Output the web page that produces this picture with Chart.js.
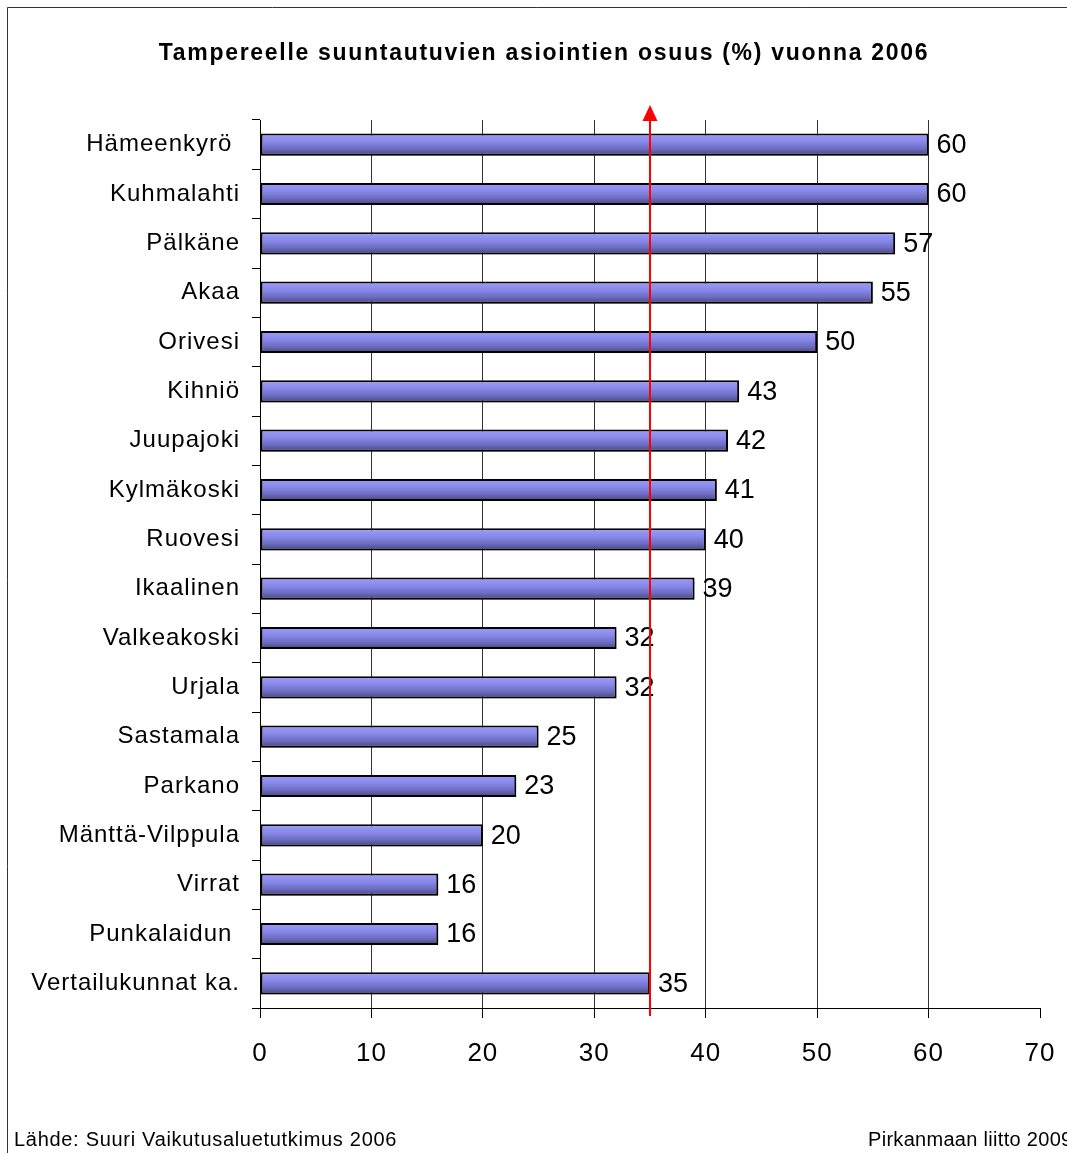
<!DOCTYPE html>
<html>
<head>
<meta charset="utf-8">
<script src="https://cdn.jsdelivr.net/npm/chart.js@4/dist/chart.umd.min.js"></script>
<style>
  body { margin: 0; background: #fff; }
  canvas { display: block; }
</style>
</head>
<body>
<canvas id="chart" width="1067" height="1153"></canvas>
<script>
const municipalities = [
  "Hämeenkyrö ", "Kuhmalahti", "Pälkäne", "Akaa", "Orivesi", "Kihniö",
  "Juupajoki", "Kylmäkoski", "Ruovesi", "Ikaalinen", "Valkeakoski", "Urjala",
  "Sastamala", "Parkano", "Mänttä-Vilppula", "Virrat", "Punkalaidun ", "Vertailukunnat ka."
];
const shares = [60, 60, 57, 55, 50, 43, 42, 41, 40, 39, 32, 32, 25, 23, 20, 16, 16, 35];
const xTicks = [0, 10, 20, 30, 40, 50, 60, 70];
const referenceValue = 35;

const titleText = "Tampereelle suuntautuvien asiointien osuus (%) vuonna 2006";
const sourceText = "Lähde: Suuri Vaikutusaluetutkimus 2006";
const creditText = "Pirkanmaan liitto 2009";

const FONT = "'Liberation Sans', Arial, sans-serif";

// vertical gradient per bar
function barFill(ctx) {
  const chart = ctx.chart;
  const y = chart.scales && chart.scales.y;
  if (!y || ctx.dataIndex === undefined) return "#8080e0";
  const c = y.getPixelForValue(ctx.dataIndex);
  if (!isFinite(c)) return "#8080e0";
  const g = chart.ctx.createLinearGradient(0, c - 11, 0, c + 11);
  g.addColorStop(0, "#9c9cf8");
  g.addColorStop(0.35, "#8a8aec");
  g.addColorStop(0.7, "#6c6cc0");
  g.addColorStop(1, "#44447c");
  return g;
}

const decor = {
  id: "decor",
  beforeDraw(chart) {
    const ctx = chart.ctx;
    ctx.save();
    ctx.fillStyle = "#fff";
    ctx.fillRect(0, 0, chart.width, chart.height);
    // frame
    ctx.strokeStyle = "#333";
    ctx.lineWidth = 1;
    ctx.beginPath();
    ctx.moveTo(7.5, chart.height);
    ctx.lineTo(7.5, 7.5);
    ctx.lineTo(chart.width, 7.5);
    ctx.stroke();
    // title
    ctx.fillStyle = "#000";
    ctx.font = "bold 23px " + FONT;
    ctx.letterSpacing = "1.7px";
    ctx.textAlign = "center";
    ctx.textBaseline = "alphabetic";
    ctx.fillText(titleText, 544, 60);
    // footer
    ctx.letterSpacing = "0.7px";
    ctx.font = "20px " + FONT;
    ctx.textAlign = "left";
    ctx.fillText(sourceText, 14, 1146);
    ctx.letterSpacing = "0.3px";
    ctx.fillText(creditText, 868, 1146);
    ctx.restore();
    // the axis labels in the original are set a little wide
    ctx.letterSpacing = "1px";
  },
  beforeDatasetsDraw(chart) {
    const ctx = chart.ctx;
    ctx.letterSpacing = "0px";
    ctx.save();
    ctx.shadowColor = "rgba(0,0,0,0.18)";
    ctx.shadowOffsetX = 1;
    ctx.shadowOffsetY = 3;
    ctx.shadowBlur = 0;
  },
  afterDatasetsDraw(chart) {
    const ctx = chart.ctx;
    ctx.restore();
    ctx.save();
    // value labels
    ctx.font = "27px " + FONT;
    ctx.fillStyle = "#000";
    ctx.textAlign = "left";
    ctx.textBaseline = "middle";
    chart.getDatasetMeta(0).data.forEach((bar, i) => {
      ctx.fillText(String(shares[i]), bar.x + 8, bar.y + 1);
    });
    // reference arrow
    const x = chart.scales.x.getPixelForValue(referenceValue);
    const top = chart.chartArea.top;
    const bottom = chart.chartArea.bottom;
    ctx.strokeStyle = "#ff0000";
    ctx.fillStyle = "#ff0000";
    ctx.lineWidth = 2;
    ctx.beginPath();
    ctx.moveTo(x, bottom + 8);
    ctx.lineTo(x, top - 2);
    ctx.stroke();
    ctx.beginPath();
    ctx.moveTo(x, top - 15);
    ctx.lineTo(x - 7.5, top + 1);
    ctx.lineTo(x + 7.5, top + 1);
    ctx.closePath();
    ctx.fill();
    ctx.restore();
  }
};

new Chart(document.getElementById("chart"), {
  type: "bar",
  data: {
    labels: municipalities,
    datasets: [{
      data: shares,
      backgroundColor: barFill,
      borderColor: "#000",
      borderWidth: 2,
      borderSkipped: false,
      categoryPercentage: 1,
      barPercentage: 0.45
    }]
  },
  options: {
    indexAxis: "y",
    responsive: false,
    animation: false,
    devicePixelRatio: 1,
    layout: { padding: { top: 120, right: 27, left: 0, bottom: 0 } },
    plugins: {
      legend: { display: false },
      title: { display: false },
      tooltip: { enabled: false }
    },
    scales: {
      x: {
        min: 0,
        max: 70,
        afterFit: (s) => { s.height = 145; s.paddingLeft = 0; s.paddingRight = 0; },
        afterBuildTicks: (s) => { s.ticks = xTicks.map(v => ({ value: v })); },
        border: { color: "#000", width: 1 },
        grid: {
          color: (c) => (c.tick && (c.tick.value === 0 || c.tick.value === 70)) ? "rgba(0,0,0,0)" : "#333",
          tickColor: "#000",
          tickLength: 10,
          lineWidth: 1
        },
        ticks: {
          color: "#000",
          font: { family: FONT, size: 26 },
          padding: 20,
          maxRotation: 0
        }
      },
      y: {
        afterFit: (s) => { s.width = 260; },
        border: { color: "#000", width: 1 },
        grid: {
          drawOnChartArea: false,
          tickColor: "#000",
          tickLength: 8,
          offset: true
        },
        ticks: {
          color: "#000",
          font: { family: FONT, size: 24 },
          padding: 12,
          autoSkip: false
        }
      }
    }
  },
  plugins: [decor]
});
</script>
</body>
</html>
